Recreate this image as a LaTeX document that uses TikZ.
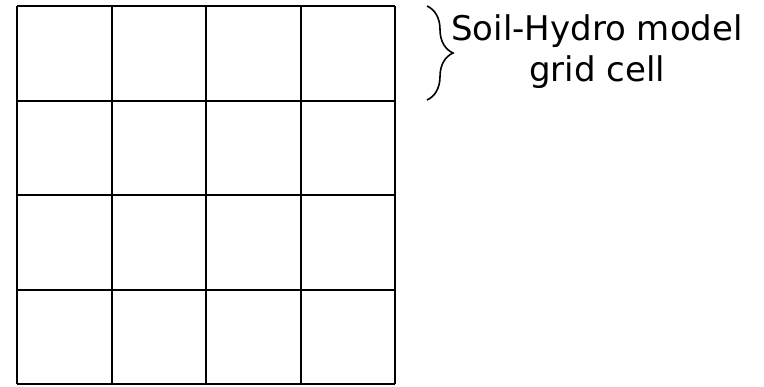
\documentclass[tikz,border=0pt]{standalone}
\usepackage{fontspec}
\setmainfont{DejaVu Sans}
\usetikzlibrary{decorations.pathreplacing}

\begin{document}
\begin{tikzpicture}[x=0.5pt,y=-0.5pt]
% cell size of the soil-hydro grid
\def\cellw{94.5}
\tikzset{gridline/.style={line width=1pt}}
\useasboundingbox (0,0) rectangle (764,386);

% --- 4x4 grid ---
\foreach \i in {0,...,4}{
  \draw[gridline] (17+\i*\cellw,6) -- (17+\i*\cellw,384);
  \draw[gridline] (17,6+\i*\cellw) -- (395,6+\i*\cellw);
}

% --- brace and label ---
\coordinate (bracetop) at (427,6);
\coordinate (bracebot) at (427,100);
\draw[line width=0.8pt, decorate, decoration={brace,amplitude=13pt}]
    (bracetop) -- (bracebot);
\node[align=center, font=\fontsize{17}{20.5}\selectfont] (cellnote) at (597,52)
    {Soil-Hydro model\\grid cell};
\end{tikzpicture}
\end{document}
